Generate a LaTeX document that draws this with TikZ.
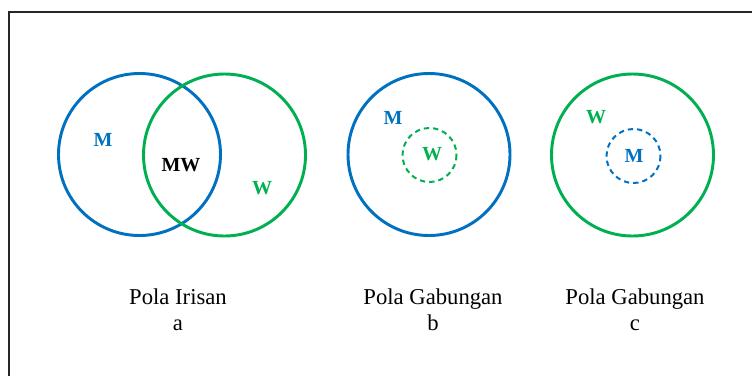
\documentclass[tikz,border=0pt]{standalone}
\usepackage{fontspec}
\setmainfont{Liberation Serif}
\definecolor{setblue}{RGB}{0,112,192}
\definecolor{setgreen}{RGB}{0,176,80}
\begin{document}
\begin{tikzpicture}[x=0.75pt,y=-0.75pt,
  ring/.style={line width=2.2pt},
  subring/.style={line width=1.5pt,dash pattern=on 4pt off 3pt},
  tag/.style={font=\fontsize{15}{17}\selectfont\bfseries},
  caption/.style={font=\fontsize{17}{19.5}\selectfont,align=center}]
\useasboundingbox(0,0)rectangle(752,376);
\draw[line width=1.5pt,black!85](752,12)--(9,12)--(9,376);
%
\coordinate(ma)at(139.5,154.5);
\coordinate(wa)at(224.5,155);
\draw[ring,setblue](ma)circle(81);
\draw[ring,setgreen](wa)circle(81);
\node[tag,setblue](ma-lbl)at(103,140){M};
\node[tag](mw-lbl)at(181,165){MW};
\node[tag,setgreen](wa-lbl)at(262,188){W};
%
\coordinate(mb)at(429,154.5);
\draw[ring,setblue](mb)circle(81);
\draw[subring,setgreen](429.5,155)circle(27);
\node[tag,setblue](mb-lbl)at(393,118){M};
\node[tag,setgreen](wb-lbl)at(432,154){W};
%
\coordinate(wc)at(632.5,155);
\draw[ring,setgreen](wc)circle(81);
\draw[subring,setblue](633.5,156)circle(27);
\node[tag,setgreen](wc-lbl)at(596,117){W};
\node[tag,setblue](mc-lbl)at(634,156){M};
%
\node[caption](cap-a)at(178,310){Pola Irisan\\a};
\node[caption](cap-b)at(433,310){Pola Gabungan\\b};
\node[caption](cap-c)at(635,310){Pola Gabungan\\c};
\end{tikzpicture}
\end{document}
